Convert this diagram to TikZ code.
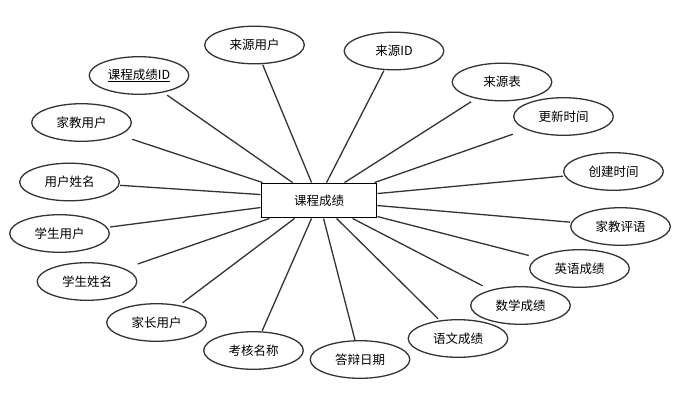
\documentclass[tikz,border=0pt]{standalone}
\usepackage{fontspec}
\setmainfont{Noto Sans CJK SC}
\usetikzlibrary{shapes.geometric}
\begin{document}
\begin{tikzpicture}[x=1pt,y=-1pt,
  attr/.style={rectangle,minimum width=101pt,minimum height=39pt,inner sep=0pt,font=\fontsize{12.5}{14}\selectfont,
    append after command={\pgfextra{\draw[draw=black!80,line width=1.3pt] (\tikzlastnode.center) ellipse [x radius=49.8pt,y radius=18.8pt];}}},
  ent/.style={draw=black,line width=1.9pt,rectangle,minimum width=115pt,minimum height=34pt,inner sep=0pt,font=\fontsize{12.5}{14}\selectfont},
  link/.style={draw=black!80,line width=1.3pt}]
\useasboundingbox (0,0) rectangle (690,407);
\node[ent] (c) at (319,200.5) {课程成绩};
\node[attr] (ly) at (254.5,45) {来源用户};
\node[attr] (id) at (139,75.5) {\underline{课程成绩ID}};
\node[attr] (jj) at (81.5,122.5) {家教用户};
\node[attr] (yh) at (69.5,182) {用户姓名};
\node[attr] (lid) at (394,51) {来源ID};
\node[attr] (lb) at (502,82) {来源表};
\node[attr] (gx) at (563.5,116.5) {更新时间};
\node[attr] (cj) at (613.5,171.5) {创建时间};
\node[attr] (py) at (620.5,226.5) {家教评语};
\node[attr] (yy) at (579.5,268.5) {英语成绩};
\node[attr] (sx) at (520.5,305.5) {数学成绩};
\node[attr] (yw) at (458,338.5) {语文成绩};
\node[attr] (db) at (360,359.5) {答辩日期};
\node[attr] (kh) at (253.5,350.5) {考核名称};
\node[attr] (jz) at (156.5,322.5) {家长用户};
\node[attr] (xm) at (87,281.5) {学生姓名};
\node[attr] (xs) at (59.5,233.5) {学生用户};
\draw[link] ([xshift=51pt]c.north west) -- (ly);
\draw[link] ([xshift=32pt]c.north west) -- (id);
\draw[link] ([xshift=2pt]c.north west) -- (jj);
\draw[link] ([yshift=-12pt]c.north west) -- (yh);
\draw[link] ([xshift=66pt]c.north west) -- (lid);
\draw[link] ([xshift=84pt]c.north west) -- (lb);
\draw[link] ([xshift=114pt]c.north west) -- (gx);
\draw[link] ([yshift=-11pt]c.north east) -- (cj);
\draw[link] ([yshift=-23pt]c.north east) -- (py);
\draw[link] ([yshift=-34pt]c.north east) -- (yy);
\draw[link] ([xshift=92pt]c.south west) -- (sx);
\draw[link] ([xshift=76pt]c.south west) -- (yw);
\draw[link] ([xshift=63pt]c.south west) -- (db);
\draw[link] ([xshift=51pt]c.south west) -- (kh);
\draw[link] ([xshift=34pt]c.south west) -- (jz);
\draw[link] ([xshift=9pt]c.south west) -- (xm);
\draw[link] ([yshift=-25pt]c.north west) -- (xs);
\end{tikzpicture}
\end{document}
